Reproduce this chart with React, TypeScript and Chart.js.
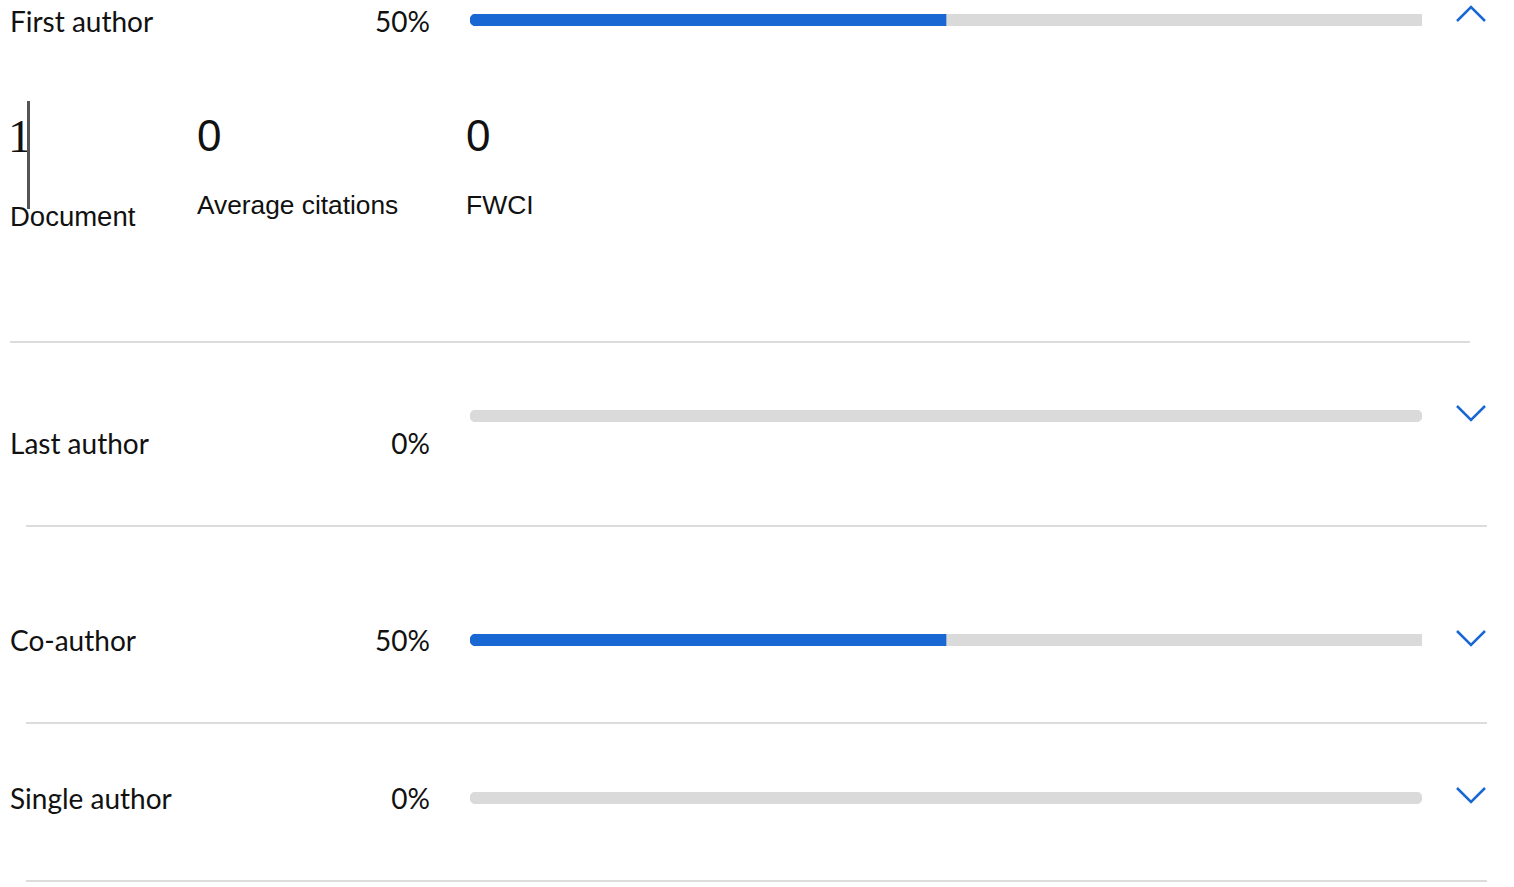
import React, { useEffect, useRef } from "react";
import { Chart, registerables } from "chart.js";

Chart.register(...registerables);

// ---- data ----
const categories = ["First author", "Last author", "Co-author", "Single author"];
const shares = [50, 0, 50, 0];
const expanded = [true, false, false, false];
const documentCount = 1;
const averageCitations = 0;
const fwci = 0;
const metricLabels = ["Document", "Average citations", "FWCI"];

// ---- layout ----
const BLUE = "#1967d2";
const GREY = "#dadada";
const rowTextY = [21, 443, 640, 798];
const barY = [20, 416, 640, 798];
const chevY = [14, 413, 638, 795];
const dividers = [
  { y: 342, x1: 10, x2: 1470 },
  { y: 526, x1: 26, x2: 1487 },
  { y: 723, x1: 26, x2: 1487 },
  { y: 881, x1: 26, x2: 1487 },
];
const BAR_X = 470;
const BAR_W = 952;
const BAR_H = 12;
const LABEL_FONT = "Lato, 'Noto Sans', sans-serif";
const SANS = "'Liberation Sans', Arial, sans-serif";

function ShareBar({ value, top }: { value: number; top: number }) {
  const ref = useRef<HTMLCanvasElement | null>(null);
  useEffect(() => {
    if (!ref.current) return;
    const r = BAR_H / 2;
    const chart = new Chart(ref.current, {
      type: "bar",
      data: {
        labels: [""],
        datasets: [
          {
            data: [value === 0 ? null : value],
            backgroundColor: BLUE,
            borderSkipped: false,
            borderRadius: { topLeft: r, bottomLeft: r, topRight: 0, bottomRight: 0 },
            barPercentage: 1,
            categoryPercentage: 1,
          },
          {
            data: [100 - value],
            backgroundColor: GREY,
            borderSkipped: false,
            borderRadius:
              value === 0
                ? { topLeft: r, bottomLeft: r, topRight: r, bottomRight: r }
                : { topLeft: 0, bottomLeft: 0, topRight: 0, bottomRight: 0 },
            barPercentage: 1,
            categoryPercentage: 1,
          },
        ],
      },
      options: {
        indexAxis: "y",
        animation: false,
        responsive: true,
        maintainAspectRatio: false,
        layout: { padding: 0 },
        plugins: { legend: { display: false }, tooltip: { enabled: false } },
        scales: {
          x: { stacked: true, min: 0, max: 100, display: false },
          y: { stacked: true, display: false },
        },
      },
    });
    return () => chart.destroy();
  }, [value]);
  return (
    <div
      style={{
        position: "absolute",
        left: BAR_X,
        top: top - BAR_H / 2,
        width: BAR_W,
        height: BAR_H,
      }}
    >
      <canvas ref={ref} />
    </div>
  );
}

function Chevron({ up, cy }: { up: boolean; cy: number }) {
  return (
    <svg
      width={34}
      height={20}
      style={{ position: "absolute", left: 1454, top: cy - 10 }}
    >
      <polyline
        points={up ? "3,17 17,3 31,17" : "3,3 17,17 31,3"}
        fill="none"
        stroke={BLUE}
        strokeWidth={2.5}
      />
    </svg>
  );
}

export default function App() {
  return (
    <div
      style={{
        position: "fixed",
        left: 0,
        top: 0,
        width: 1514,
        height: 887,
        background: "#fff",
        overflow: "hidden",
        color: "#111",
      }}
    >
      {categories.map((c, i) => (
        <React.Fragment key={c}>
          <div
            style={{
              position: "absolute",
              left: 10,
              top: rowTextY[i] - 20,
              height: 40,
              lineHeight: "40px",
              fontFamily: LABEL_FONT,
              fontSize: 28,
              whiteSpace: "nowrap",
            }}
          >
            {c}
          </div>
          <div
            style={{
              position: "absolute",
              left: 330,
              width: 100,
              textAlign: "right",
              top: rowTextY[i] - 20,
              height: 40,
              lineHeight: "40px",
              fontFamily: LABEL_FONT,
              fontSize: 28,
            }}
          >
            {shares[i]}%
          </div>
          <ShareBar value={shares[i]} top={barY[i]} />
          <Chevron up={expanded[i]} cy={chevY[i]} />
        </React.Fragment>
      ))}

      {/* expanded metrics */}
      <div
        style={{
          position: "absolute",
          left: 8,
          top: 108,
          fontFamily: "'Liberation Serif', 'Times New Roman', serif",
          fontSize: 47,
          lineHeight: "56px",
        }}
      >
        {documentCount}
      </div>
      <div
        style={{
          position: "absolute",
          left: 27,
          top: 101,
          width: 3,
          height: 108,
          background: "#555",
        }}
      />
      <div
        style={{
          position: "absolute",
          left: 197,
          top: 108,
          fontFamily: SANS,
          fontSize: 44,
          lineHeight: "56px",
        }}
      >
        {averageCitations}
      </div>
      <div
        style={{
          position: "absolute",
          left: 466,
          top: 108,
          fontFamily: SANS,
          fontSize: 44,
          lineHeight: "56px",
        }}
      >
        {fwci}
      </div>
      <div
        style={{
          position: "absolute",
          left: 10,
          top: 200,
          fontFamily: SANS,
          fontSize: 27.5,
          lineHeight: "34px",
          whiteSpace: "nowrap",
        }}
      >
        {metricLabels[0]}
      </div>
      <div
        style={{
          position: "absolute",
          left: 197,
          top: 188,
          fontFamily: SANS,
          fontSize: 26.3,
          lineHeight: "34px",
          whiteSpace: "nowrap",
        }}
      >
        {metricLabels[1]}
      </div>
      <div
        style={{
          position: "absolute",
          left: 466,
          top: 188,
          fontFamily: SANS,
          fontSize: 26.5,
          lineHeight: "34px",
          whiteSpace: "nowrap",
        }}
      >
        {metricLabels[2]}
      </div>

      {dividers.map((d, i) => (
        <div
          key={i}
          style={{
            position: "absolute",
            left: d.x1,
            top: d.y - 1,
            width: d.x2 - d.x1,
            height: 2,
            background: "#dcdcdc",
          }}
        />
      ))}
    </div>
  );
}
